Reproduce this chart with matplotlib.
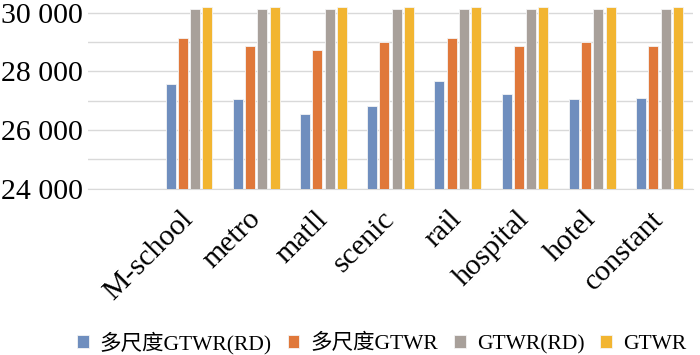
import matplotlib
matplotlib.use('Agg')
import matplotlib.pyplot as plt
import matplotlib.ticker as mtick
import numpy as np

categories = ['M-school', 'metro', 'matll', 'scenic', 'rail', 'hospital', 'hotel', 'constant']
series_names = ['多尺度GTWR(RD)', '多尺度GTWR', 'GTWR(RD)', 'GTWR']
mgtwr_rd = [27560, 27050, 26540, 26810, 27660, 27220, 27050, 27100]
mgtwr    = [29120, 28860, 28740, 29000, 29130, 28880, 29000, 28880]
gtwr_rd  = [30120, 30120, 30120, 30120, 30120, 30120, 30120, 30120]
gtwr     = [30180, 30180, 30180, 30180, 30180, 30180, 30180, 30180]
colors = ['#6F8EBE', '#E0783A', '#A8A09A', '#F2B531']

SERIF = ['Liberation Serif', 'Noto Sans CJK SC']
plt.rcParams['font.family'] = SERIF

fig = plt.figure(figsize=(7, 3.55), dpi=100)
ax = fig.add_axes([0.126, 0.468, 0.864, 0.532])

x = np.arange(len(categories))
step = 0.183
width = 0.15
for i, (vals, c, name) in enumerate(zip([mgtwr_rd, mgtwr, gtwr_rd, gtwr], colors, series_names)):
    ax.bar(x + (i - 1.5) * step, np.array(vals) - 24000, bottom=24000, width=width,
           color=c, edgecolor='#f4f4f4', linewidth=0.6, label=name, zorder=3)

ax.set_xlim(-1.5, 7.5)
ax.set_ylim(24000, 30430)
ax.set_yticks([24000, 26000, 28000, 30000])
ax.yaxis.set_minor_locator(mtick.MultipleLocator(1000))
ax.yaxis.set_major_formatter(mtick.FuncFormatter(lambda v, p: f'{int(v):,}'.replace(',', ' ')))
ax.grid(True, axis='y', which='both', color='#d9d9d9', linewidth=1.0, zorder=0)
ax.tick_params(axis='both', which='both', length=0)
ax.tick_params(axis='y', labelsize=21.5, pad=4)
ax.tick_params(axis='x', labelsize=21.5, pad=19)
ax.set_xticks(x)
ax.set_xticklabels(categories, rotation=45, ha='right', va='center', rotation_mode='anchor')
for s in ['top', 'right', 'left']:
    ax.spines[s].set_visible(False)
ax.spines['bottom'].set_color('#d9d9d9')

fig.legend(loc='center', bbox_to_anchor=(0.545, 0.034), ncol=4, frameon=False,
           prop={'family': SERIF, 'size': 15.5}, handlelength=0.55, handleheight=0.55,
           handletextpad=0.5, columnspacing=0.75)

fig.savefig('out.png', dpi=100, facecolor='white')
